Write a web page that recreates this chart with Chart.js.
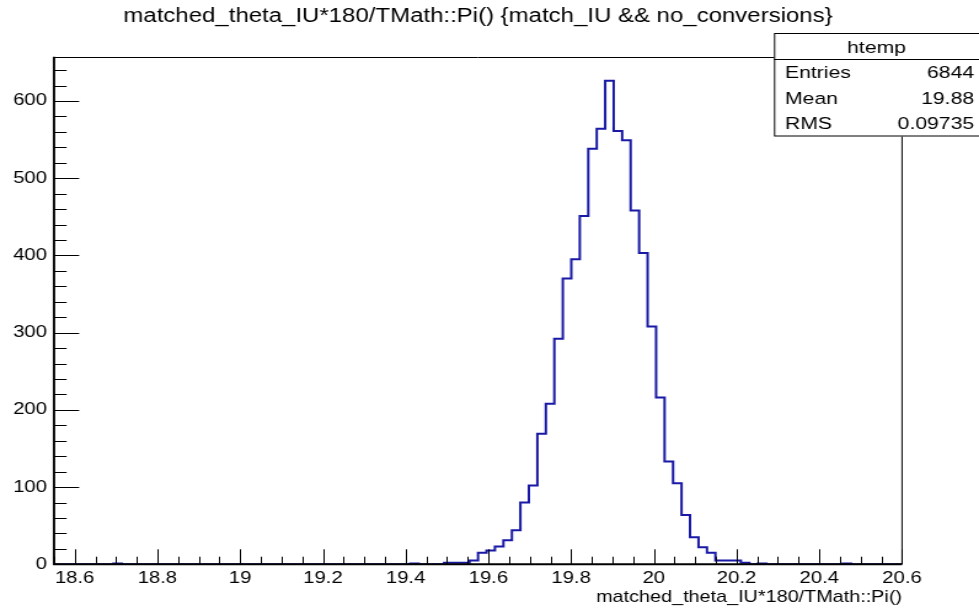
<!DOCTYPE html>
<html lang="en">
<head>
<meta charset="UTF-8" />
<title>matched_theta_IU</title>
<script src="https://cdn.jsdelivr.net/npm/chart.js"></script>
<style>
  html, body { margin: 0; padding: 0; background: #fff; }
  /* the ROOT picture was stretched sideways, so the canvas is stretched the same way */
  #hist { display: block; width: 979px !important; height: 608px !important; }
</style>
</head>
<body>
<canvas id="hist" width="796" height="608" style="width:979px;height:608px"></canvas>
<script>
// histogram range and 100 bin contents
const xMin = 18.55;
const xMax = 20.6;
const counts = [
  0, 0, 0, 0, 0, 0, 0, 1, 0, 0,
  0, 0, 0, 0, 0, 0, 0, 0, 0, 0,
  0, 0, 0, 0, 0, 0, 0, 0, 0, 0,
  0, 0, 0, 0, 0, 0, 0, 0, 0, 0,
  0, 0, 1, 0, 0, 0, 2, 2, 2, 5,
  15, 18, 23, 31, 44, 80, 102, 169, 208, 292,
  370, 395, 451, 538, 564, 626, 561, 549, 458, 403,
  308, 216, 133, 105, 64, 35, 22, 15, 5, 5,
  5, 2, 0, 1, 0, 0, 0, 0, 0, 0,
  0, 0, 0, 1, 0, 0, 0, 0, 0, 0
];
const xTicks = [18.6, 18.8, 19, 19.2, 19.4, 19.6, 19.8, 20, 20.2, 20.4, 20.6];
const yTicks = [0, 100, 200, 300, 400, 500, 600];
const statsRows = [['Entries', '6844'], ['Mean', '19.88'], ['RMS', '0.09735']];
const histName = 'htemp';
const titleText = 'matched_theta_IU*180/TMath::Pi() {match_IU && no_conversions}';
const xTitle = 'matched_theta_IU*180/TMath::Pi()';

const FONT = "'Liberation Sans', Arial, Helvetica, sans-serif";
const lineColor = 'rgb(25, 25, 165)';

const binW = (xMax - xMin) / counts.length;
const points = counts.map((c, i) => ({ x: xMin + i * binW, y: c }));
points.push({ x: xMax, y: counts[counts.length - 1] });
const yMax = 1.05 * Math.max(...counts);

// ROOT style frame: ticks point inwards, minor ticks are half length
const rootFrame = {
  id: 'rootFrame',
  afterDatasetsDraw(chart) {
    const { ctx, chartArea: a, scales: { x, y } } = chart;
    ctx.save();
    ctx.strokeStyle = '#000';
    ctx.lineWidth = 1;
    ctx.beginPath();
    for (let k = 0; k <= 41; k++) {
      const v = xMin + k * 0.05;
      const px = Math.round(x.getPixelForValue(v)) + 0.5;
      const r = (v - 18.6) / 0.2;
      const len = Math.abs(r - Math.round(r)) < 1e-6 ? 15 : 7.6;
      ctx.moveTo(px, a.bottom);
      ctx.lineTo(px, a.bottom - len);
    }
    for (let v = 0; v <= yMax; v += 20) {
      const py = Math.round(y.getPixelForValue(v)) + 0.5;
      const len = v % 100 === 0 ? 20.5 : 10.3;
      ctx.moveTo(a.left, py);
      ctx.lineTo(a.left + len, py);
    }
    ctx.stroke();

    // top and right edges
    ctx.beginPath();
    ctx.moveTo(a.left, Math.round(a.top) + 0.5);
    ctx.lineTo(a.right, Math.round(a.top) + 0.5);
    ctx.lineTo(a.right, a.bottom);
    ctx.stroke();

    // axis lines
    ctx.lineWidth = 2;
    ctx.beginPath();
    ctx.moveTo(a.left, a.top);
    ctx.lineTo(a.left, a.bottom);
    ctx.lineTo(a.right, a.bottom);
    ctx.stroke();
    ctx.restore();
  },
  afterDraw(chart) {
    const { ctx } = chart;
    const left = 629.3, top = 33, right = 800, bottom = 136.5, sep = 59;
    ctx.save();
    ctx.fillStyle = '#fff';
    ctx.fillRect(left, top, right - left, bottom - top);
    ctx.strokeStyle = '#000';
    ctx.lineWidth = 1;
    ctx.strokeRect(left + 0.5, top + 0.5, right - left, bottom - top - 1);
    ctx.beginPath();
    ctx.moveTo(left, sep + 0.5);
    ctx.lineTo(right, sep + 0.5);
    ctx.stroke();

    ctx.fillStyle = '#000';
    ctx.font = `17.2px ${FONT}`;
    ctx.textBaseline = 'alphabetic';
    ctx.textAlign = 'center';
    ctx.fillText(histName, 712.7, 53);
    const baselines = [78, 104, 129];
    statsRows.forEach(([name, val], i) => {
      ctx.textAlign = 'left';
      ctx.fillText(name, 638.3, baselines[i]);
      ctx.textAlign = 'right';
      ctx.fillText(val, 792, baselines[i]);
    });
    ctx.restore();
  }
};

new Chart(document.getElementById('hist'), {
  type: 'line',
  data: {
    datasets: [{
      data: points,
      stepped: true,
      borderColor: lineColor,
      borderWidth: 2,
      pointRadius: 0,
      fill: false
    }]
  },
  options: {
    responsive: false,
    animation: false,
    devicePixelRatio: 1,
    layout: { padding: { left: 0, right: 62.6, top: 0, bottom: 0 } },
    plugins: {
      legend: { display: false },
      tooltip: { enabled: false },
      title: {
        display: true,
        text: titleText,
        color: '#000',
        fullSize: false,
        font: { family: FONT, size: 19.5, weight: 'normal' },
        padding: { top: 5.3, bottom: 28 }
      }
    },
    scales: {
      x: {
        type: 'linear',
        min: xMin,
        max: xMax,
        afterBuildTicks: s => { s.ticks = xTicks.map(v => ({ value: v })); },
        afterFit: s => { s.height = 43.7; },
        grid: { display: false, drawTicks: false },
        border: { display: false },
        ticks: {
          autoSkip: false,
          maxRotation: 0,
          color: '#000',
          padding: 4,
          font: { family: FONT, size: 16.5 },
          callback: v => String(v)
        },
        title: {
          display: true,
          text: xTitle,
          align: 'end',
          color: '#000',
          padding: 0,
          font: { family: FONT, size: 16.1, lineHeight: 20 / 16.1 }
        }
      },
      y: {
        type: 'linear',
        min: 0,
        max: yMax,
        afterBuildTicks: s => { s.ticks = yTicks.map(v => ({ value: v })); },
        afterFit: s => { s.width = 43.9; },
        grid: { display: false, drawTicks: false },
        border: { display: false },
        ticks: {
          color: '#000',
          padding: 5.7,
          font: { family: FONT, size: 16.5 },
          callback: v => String(v)
        }
      }
    }
  },
  plugins: [rootFrame]
});
</script>
</body>
</html>
